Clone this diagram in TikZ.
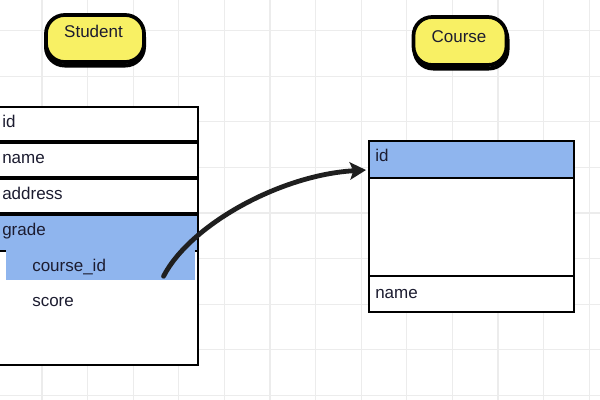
\documentclass[tikz,border=0pt]{standalone}
\usepackage{fontspec}
\setmainfont{Liberation Sans}
\usetikzlibrary{arrows.meta}
\definecolor{blobc}{RGB}{248,240,100}
\definecolor{bandc}{RGB}{143,181,238}
\definecolor{gridc}{RGB}{236,236,236}
\definecolor{inkc}{RGB}{28,28,48}
\def\u{0.75pt}
\begin{document}
\begin{tikzpicture}[x=0.75pt,y=-0.75pt,
  rowbox/.style={draw=black, line width=1.5pt, fill=white, inner sep=0pt, anchor=north west},
  bandbox/.style={rowbox, fill=bandc},
  hilite/.style={fill=bandc, inner sep=0pt, anchor=north west},
  lbl/.style={anchor=base west, inner sep=0pt, text=inkc, font=\fontsize{12.75}{15}\selectfont},
  blobbox/.style={draw=black, line width=2.8pt, fill=blobc, rounded corners=14pt, inner sep=0pt},
  blobshadow/.style={draw=black, line width=3pt, rounded corners=14pt, inner sep=0pt},
  title/.style={anchor=base, inner sep=0pt, text=inkc, font=\fontsize{12.75}{15}\selectfont},
  link/.style={draw=black!88, line width=3.6pt, line cap=round, -{Stealth[length=12pt,width=13pt,inset=2.5pt]}}
]
\useasboundingbox[fill=white] (0,0) rectangle (600,400);
% grid
\foreach \gx in {0,...,13} {
  \draw[gridc, line width=0.9pt] ({-3.6+45.6*\gx},0) -- ({-3.6+45.6*\gx},400);
}
\foreach \gy in {0,...,8} {
  \draw[gridc, line width=0.9pt] (0,{30.5+45.6*\gy}) -- (600,{30.5+45.6*\gy});
}

% title blobs
\node[blobshadow, minimum width=98*\u, minimum height=47*\u] (studentshadow) at (95,42) {};
\node[blobbox, minimum width=98*\u, minimum height=47*\u] (studentblob) at (95,38.5) {};
\node[title] (studentlbl) at (93.5,37) {Student};

\node[blobshadow, minimum width=93*\u, minimum height=48*\u] (courseshadow) at (461,44.5) {};
\node[blobbox, minimum width=93*\u, minimum height=48*\u] (courseblob) at (460,41) {};
\node[title] (courselbl) at (459,42) {Course};

% Student table
\node[rowbox, minimum width=207*\u, minimum height=34*\u] (sid) at (-10,106) {};
\node[rowbox, minimum width=207*\u, minimum height=34*\u] (sname) at (-10,142) {};
\node[rowbox, minimum width=207*\u, minimum height=34*\u] (saddr) at (-10,178) {};
\node[rowbox, minimum width=207*\u, minimum height=150*\u] (sgradebox) at (-10,214) {};
\node[bandbox, minimum width=207*\u, minimum height=36*\u] (sgrade) at (-10,214) {};
\node[hilite, minimum width=189*\u, minimum height=30*\u] (scid) at (6,250) {};

\node[lbl] (tid) at (2,127) {id};
\node[lbl] (tname) at (2,163) {name};
\node[lbl] (taddr) at (2,199) {address};
\node[lbl] (tgrade) at (2,235) {grade};
\node[lbl] (tcid) at (32,271) {course\_id};
\node[lbl] (tscore) at (32,306) {score};

% Course table
\node[rowbox, minimum width=205*\u, minimum height=171*\u] (cbox) at (368,140) {};
\node[bandbox, minimum width=205*\u, minimum height=37*\u] (cid) at (368,140) {};
\node[rowbox, minimum width=205*\u, minimum height=36*\u] (cname) at (368,275) {};
\node[lbl] (tcid2) at (375,161) {id};
\node[lbl] (tcname) at (375,298) {name};

% connector
\coordinate (linkstart) at ([xshift=-24pt,yshift=-8.25pt]scid.east);
\coordinate (linkend) at ([xshift=-1.5pt,yshift=6.75pt]cid.south west);
\draw[link] (linkstart) .. controls (190,225) and (280,175) .. (linkend);
\end{tikzpicture}
\end{document}
